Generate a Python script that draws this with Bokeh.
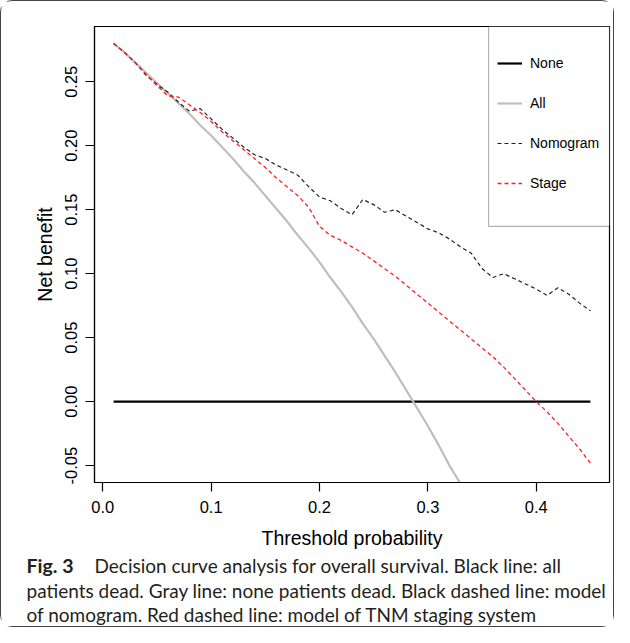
from bokeh.plotting import figure
from bokeh.layouts import column
from bokeh.models import Legend, LegendItem, FixedTicker, Range1d, BoxAnnotation
from bokeh.core.properties import value
from bokeh.embed import file_html
from bokeh.resources import INLINE

# ---------------- data ----------------
thresholds = [0.01, 0.02, 0.03, 0.04, 0.05, 0.06, 0.07, 0.08, 0.09, 0.10,
              0.11, 0.12, 0.13, 0.14, 0.15, 0.16, 0.17, 0.18, 0.19, 0.20,
              0.21, 0.22, 0.23, 0.24, 0.25, 0.26, 0.27, 0.28, 0.29, 0.30,
              0.31, 0.32, 0.33, 0.34, 0.35, 0.36, 0.37, 0.38, 0.39, 0.40,
              0.41, 0.42, 0.43, 0.44, 0.45]

none_nb = [0.0, 0.0, 0.0, 0.0, 0.0, 0.0, 0.0, 0.0, 0.0, 0.0,
           0.0, 0.0, 0.0, 0.0, 0.0, 0.0, 0.0, 0.0, 0.0, 0.0,
           0.0, 0.0, 0.0, 0.0, 0.0, 0.0, 0.0, 0.0, 0.0, 0.0,
           0.0, 0.0, 0.0, 0.0, 0.0, 0.0, 0.0, 0.0, 0.0, 0.0,
           0.0, 0.0, 0.0, 0.0, 0.0]

all_thresholds = [0.01, 0.02, 0.03, 0.04, 0.05, 0.06, 0.07, 0.08, 0.09, 0.10,
                  0.11, 0.12, 0.13, 0.14, 0.15, 0.16, 0.17, 0.18, 0.19, 0.20,
                  0.21, 0.22, 0.23, 0.24, 0.25, 0.26, 0.27, 0.28, 0.29, 0.30,
                  0.31, 0.32, 0.33, 0.34]
all_nb = [0.280, 0.273, 0.265, 0.257, 0.249, 0.241, 0.233, 0.225, 0.216, 0.208,
          0.199, 0.190, 0.180, 0.171, 0.161, 0.151, 0.141, 0.130, 0.120, 0.109,
          0.097, 0.086, 0.074, 0.061, 0.049, 0.036, 0.023, 0.009, -0.005, -0.019,
          -0.034, -0.050, -0.064, -0.080]

nomogram_nb = [0.280, 0.273, 0.265, 0.255, 0.248, 0.242, 0.234, 0.227, 0.229, 0.221,
               0.213, 0.206, 0.199, 0.193, 0.190, 0.185, 0.181, 0.177, 0.168, 0.160,
               0.157, 0.151, 0.146, 0.158, 0.154, 0.148, 0.150, 0.145, 0.140, 0.135,
               0.132, 0.127, 0.121, 0.116, 0.104, 0.097, 0.100, 0.096, 0.092, 0.088,
               0.083, 0.089, 0.084, 0.077, 0.071]

stage_nb = [0.280, 0.273, 0.265, 0.256, 0.247, 0.239, 0.238, 0.232, 0.226, 0.219,
            0.211, 0.204, 0.197, 0.190, 0.183, 0.175, 0.168, 0.161, 0.152, 0.137,
            0.130, 0.126, 0.121, 0.116, 0.110, 0.104, 0.098, 0.091, 0.084, 0.077,
            0.070, 0.063, 0.056, 0.049, 0.042, 0.035, 0.027, 0.018, 0.009, 0.000,
            -0.008, -0.017, -0.027, -0.037, -0.048]

x_ticks = [0.0, 0.1, 0.2, 0.3, 0.4]
x_tick_labels = ["0.0", "0.1", "0.2", "0.3", "0.4"]
y_ticks = [-0.05, 0.0, 0.05, 0.10, 0.15, 0.20, 0.25]
y_tick_labels = ["-0.05", "0.00", "0.05", "0.10", "0.15", "0.20", "0.25"]

series_names = ["None", "All", "Nomogram", "Stage"]

caption_bold = "Fig. 3"
caption_lines = [
    "Decision curve analysis for overall survival. Black line: all",
    "patients dead. Gray line: none patients dead. Black dashed line: model",
    "of nomogram. Red dashed line: model of TNM staging system",
]

# ---------------- layout constants ----------------
AX_FONT = "Liberation Sans"
CAP_FONT = "Lato"
W = 612
H_PLOT = 551
H_CAP = 74

# ---------------- main plot ----------------
p = figure(width=W, height=H_PLOT, output_backend="svg", toolbar_location=None,
           x_range=Range1d(-0.0076, 0.4676), y_range=Range1d(-0.0632, 0.2932),
           min_border_left=93, min_border_right=4, min_border_top=25,
           min_border_bottom=70)
p.frame_align = False

p.xgrid.visible = False
p.ygrid.visible = False
p.outline_line_color = "black"
p.outline_line_width = 1.2
p.background_fill_color = "white"
p.border_fill_color = "white"

r_none = p.line(thresholds, none_nb, line_color="black", line_width=2.2)
r_all = p.line(all_thresholds, all_nb, line_color="#bebebe", line_width=2.2)
r_nomo = p.line(thresholds, nomogram_nb, line_color="#222222", line_width=1.2,
                line_dash="4 3")
r_stage = p.line(thresholds, stage_nb, line_color="#ff2020", line_width=1.3,
                 line_dash="4 3")

for ax in (p.xaxis[0], p.yaxis[0]):
    ax.axis_line_color = "black"
    ax.axis_line_width = 1.2
    ax.major_tick_line_color = "black"
    ax.major_tick_line_width = 1.2
    ax.major_tick_out = 9
    ax.major_tick_in = 0
    ax.minor_tick_line_color = None
    ax.major_label_text_font = AX_FONT
    ax.major_label_text_font_size = "16.5px"
    ax.major_label_text_color = "black"
    ax.axis_label_text_font = AX_FONT
    ax.axis_label_text_font_size = "19.5px"
    ax.axis_label_text_font_style = "normal"
    ax.axis_label_text_color = "black"

p.xaxis[0].ticker = FixedTicker(ticks=x_ticks)
p.xaxis[0].major_label_overrides = dict(zip(x_ticks, x_tick_labels))
p.xaxis[0].major_label_standoff = 9
p.xaxis[0].axis_label = "Threshold probability"
p.xaxis[0].axis_label_standoff = 11

p.yaxis[0].ticker = FixedTicker(ticks=y_ticks)
p.yaxis[0].major_label_overrides = dict(zip(y_ticks, y_tick_labels))
p.yaxis[0].major_label_orientation = "vertical"
p.yaxis[0].major_label_standoff = 8
p.yaxis[0].axis_label = "Net benefit"
p.yaxis[0].axis_label_standoff = 7

# legend box (R-style: attached to the top-right corner of the frame)
legend_box = BoxAnnotation(left=0.356, bottom=0.137, fill_color="white",
                           fill_alpha=1.0, line_color="black", line_width=1.2)
p.add_layout(legend_box)

legend = Legend(items=[LegendItem(label=series_names[0], renderers=[r_none]),
                       LegendItem(label=series_names[1], renderers=[r_all]),
                       LegendItem(label=series_names[2], renderers=[r_nomo]),
                       LegendItem(label=series_names[3], renderers=[r_stage])],
                location=(403, 279), margin=0, padding=10, spacing=0,
                label_height=40, glyph_height=40, glyph_width=25,
                label_standoff=8, border_line_color=None,
                background_fill_alpha=0.0, label_text_font=AX_FONT,
                label_text_font_size="14px", label_text_color="black")
p.add_layout(legend, "center")

# ---------------- caption ----------------
c = figure(width=W, height=H_CAP, output_backend="svg", toolbar_location=None,
           x_range=Range1d(0, W), y_range=Range1d(H_CAP, 0),
           x_axis_location=None, y_axis_location=None,
           min_border=0, min_border_left=0, min_border_right=0,
           min_border_top=0, min_border_bottom=0)
c.frame_align = False
c.xgrid.visible = False
c.ygrid.visible = False
c.outline_line_color = None
c.background_fill_color = "white"
c.border_fill_color = "white"

cap_x = [25, 93, 25, 25]
cap_y = [13, 13, 38, 62]
c.text(x=cap_x[:1], y=cap_y[:1], text=[caption_bold], text_font=value(CAP_FONT),
       text_font_size=value("19.5px"), text_font_style="bold",
       text_color="#231f20", text_baseline="alphabetic", text_align="left")
c.text(x=cap_x[1:], y=cap_y[1:], text=caption_lines, text_font=value(CAP_FONT),
       text_font_size=value("19px"), text_color="#231f20",
       text_baseline="alphabetic", text_align="left")

layout = column(p, c, spacing=0)
layout.styles = {"border": "1px solid #444444", "border-radius": "12px"}

open("out.html", "w").write(file_html(layout, INLINE))
